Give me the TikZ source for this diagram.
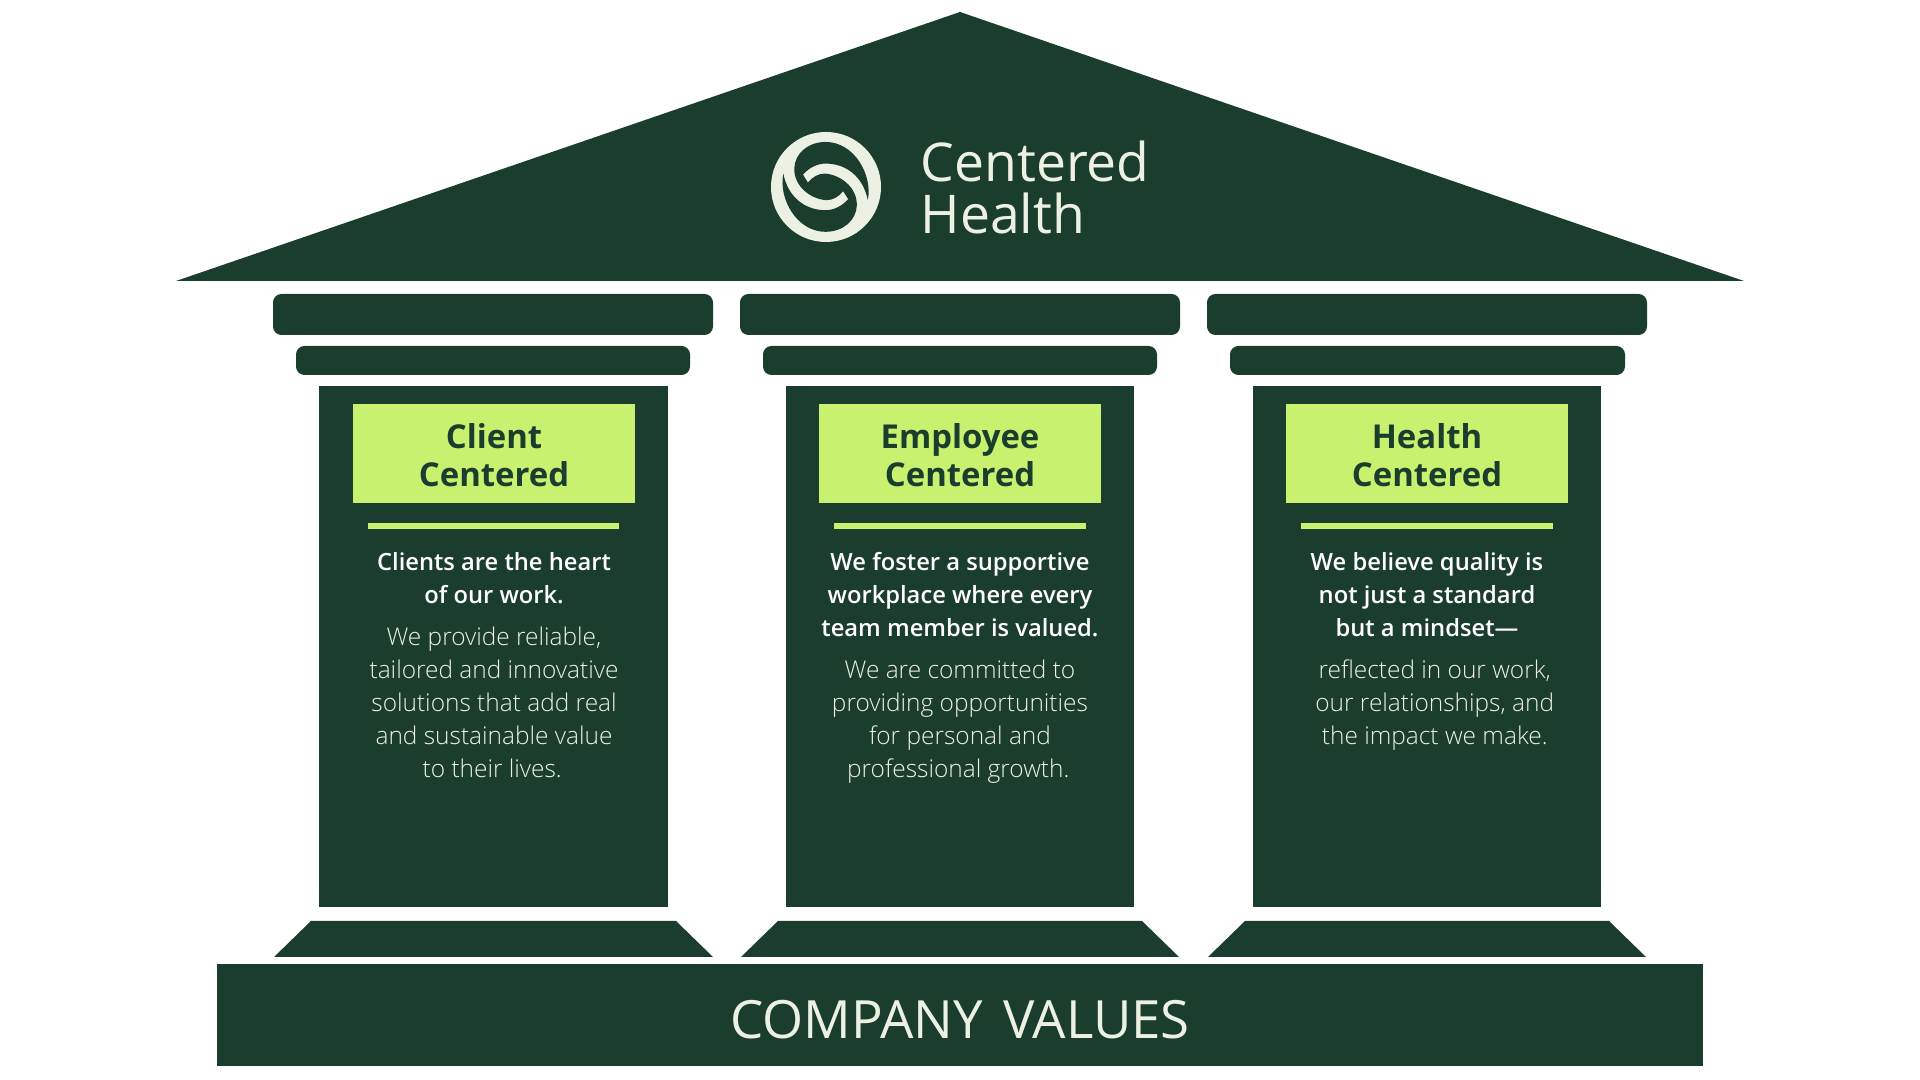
\documentclass[tikz,border=0pt]{standalone}
\usepackage{fontspec}
\setmainfont{Open Sans}
\newfontfamily\lightfont{Open Sans Light}
\newfontfamily\semifont{Open Sans Semibold}
\usetikzlibrary{positioning}
\definecolor{pine}{HTML}{1A3D2E}
\definecolor{lime}{HTML}{C8F16F}
\definecolor{cream}{HTML}{EDF1E3}
\tikzset{
    lead/.style={text=white,font=\semifont\fontsize{6.75}{9.4}\selectfont,align=center,anchor=north,inner sep=0pt},
    body/.style={text=cream,font=\lightfont\fontsize{6.95}{9.4}\selectfont,align=center,inner sep=0pt},
    head/.style={text=pine,font=\bfseries\fontsize{9.35}{10.8}\selectfont,align=center,inner sep=0pt},
    capbar/.style={pine,rounded corners=2.4pt},
}
\begin{document}
\begin{tikzpicture}[x=0.01cm,y=-0.01cm]
        \useasboundingbox (0,0) rectangle (1920,1080);

        % Draw roof and plate
        \fill[pine] (960,12) -- (1744,281) -- (176,281) -- cycle;
        \fill[pine] (217,964) rectangle (1703,1066);
        \node[text=cream,font=\fontsize{15}{15}\selectfont] (values) at (960,1020) {COMPANY\hspace{2pt} VALUES};

        % Draw logo
        \fill[cream] (826,187) circle (55);
        \begin{scope}[shift={(760,122)},x=0.00333cm,y=-0.00333cm]
        \fill[pine] (70,155) .. controls (55,230) and (110,330) .. (197,330)
            .. controls (250,330) and (290,295) .. (291,250)
            .. controls (292,195) and (240,158) .. (195,155)
            .. controls (175,155) and (158,165) .. (144,182) -- (129,158)
            .. controls (150,135) and (175,125) .. (197,125)
            .. controls (260,125) and (310,165) .. (324,235)
            .. controls (339,160) and (284,60) .. (197,60)
            .. controls (144,60) and (104,95) .. (103,140)
            .. controls (102,195) and (154,232) .. (199,235)
            .. controls (219,235) and (236,225) .. (250,208) -- (265,232)
            .. controls (244,255) and (219,265) .. (197,265)
            .. controls (134,265) and (84,225) .. (70,155) -- cycle;
        \end{scope}
        \node[text=cream,font=\fontsize{15.2}{14.8}\selectfont,align=left,anchor=west,inner sep=0pt] (brand) at (920,187.5) {Centered\\Health};

        % Draw client pillar
        \fill[capbar] (273,294) rectangle (713,335);
        \fill[capbar] (296,346) rectangle (690,375);
        \fill[pine] (319,386) rectangle (668,907);
        \fill[pine] (311,921) -- (676,921) -- (713,957) -- (274,957) -- cycle;
        \fill[lime] (353,404) rectangle (635,503);
        \node[head] (clientHead) at (494,455.5) {Client\\Centered};
        \fill[lime] (368,523) rectangle (619,529);
        \node[lead] (clientLead) at (494,552) {Clients are the heart\\of our work.};
        \node[body,below=6pt of clientLead.south,anchor=north] (clientBody) {We provide reliable,\\tailored and innovative\\solutions that add real\\and sustainable value\\to their lives.\hspace*{1pt}};

        % Draw employee pillar
        \fill[capbar] (740,294) rectangle (1180,335);
        \fill[capbar] (763,346) rectangle (1157,375);
        \fill[pine] (786,386) rectangle (1134,907);
        \fill[pine] (778,921) -- (1142,921) -- (1179,957) -- (741,957) -- cycle;
        \fill[lime] (819,404) rectangle (1101,503);
        \node[head] (employeeHead) at (960,455.5) {Employee\\Centered};
        \fill[lime] (834,523) rectangle (1086,529);
        \node[lead] (employeeLead) at (960,552) {We foster a supportive\\workplace where every\\team member is valued.};
        \node[body,below=6pt of employeeLead.south,anchor=north] (employeeBody) {We are committed to\\providing opportunities\\for personal and\\professional growth.\hspace*{1pt}};

        % Draw health pillar
        \fill[capbar] (1207,294) rectangle (1647,335);
        \fill[capbar] (1230,346) rectangle (1625,375);
        \fill[pine] (1253,386) rectangle (1601,907);
        \fill[pine] (1245,921) -- (1609,921) -- (1646,957) -- (1208,957) -- cycle;
        \fill[lime] (1286,404) rectangle (1568,503);
        \node[head] (healthHead) at (1427,455.5) {Health\\Centered};
        \fill[lime] (1301,523) rectangle (1553,529);
        \node[lead] (healthLead) at (1427,552) {We believe quality is\\not just a standard\\but a mindset—};
        \node[body,below=6pt of healthLead.south,anchor=north,xshift=2.2pt] (healthBody) {reflected in our work,\\our relationships, and\\the impact we make.};
\end{tikzpicture}
\end{document}
